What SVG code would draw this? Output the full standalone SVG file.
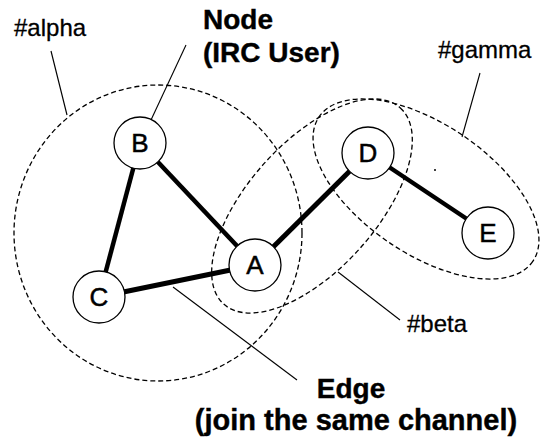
<svg xmlns="http://www.w3.org/2000/svg" width="542" height="441" viewBox="0 0 542 441">
  <style>
    .channel { fill: none; stroke: #000; stroke-width: 1.3; stroke-dasharray: 5 3; }
    .leader { fill: none; stroke: #000; stroke-width: 1.1; }
    .edge { stroke: #000; stroke-width: 4.5; stroke-linecap: butt; }
    .node circle { fill: #fff; stroke: #000; stroke-width: 1.3; }
    .node text { font-family: "Liberation Sans", Arial, sans-serif; font-size: 26px; text-anchor: middle; fill: #000; stroke: #000; stroke-width: 0.5; }
    .lbl { font-family: "Liberation Sans", Arial, sans-serif; font-size: 24px; fill: #000; stroke: #000; stroke-width: 0.3; }
    .big { font-family: "Liberation Sans", Arial, sans-serif; font-size: 28px; font-weight: bold; fill: #000; stroke: #000; stroke-width: 0.4; }
  </style>
  <rect width="542" height="441" fill="#fff"/>

  <!-- channels -->
  <g id="channels">
    <ellipse id="alpha" class="channel" cx="158" cy="233" rx="144" ry="148"/>
    <ellipse id="beta" class="channel" cx="312" cy="206" rx="132" ry="64" transform="rotate(-48 312 206)"/>
    <ellipse id="gamma" class="channel" cx="426" cy="189" rx="129" ry="65" transform="rotate(34 426 189)"/>
  </g>

  <!-- edges between users -->
  <g id="connectors">
    <line class="edge" x1="140" y1="143" x2="99" y2="297"/>
    <line class="edge" x1="140" y1="143" x2="255" y2="265"/>
    <line class="edge" x1="99" y1="297" x2="255" y2="265" style="stroke-width:5"/>
    <line class="edge" x1="255" y1="265" x2="368" y2="153" style="stroke-width:5"/>
    <line class="edge" x1="368" y1="153" x2="488" y2="233"/>
  </g>

  <!-- callout lines -->
  <g id="leaders">
    <line class="leader" x1="51" y1="51" x2="67" y2="115"/>
    <line class="leader" x1="186" y1="45" x2="151" y2="120"/>
    <line class="leader" x1="480" y1="73" x2="462" y2="137"/>
    <line class="leader" x1="338" y1="272" x2="400" y2="320"/>
    <line class="leader" x1="173" y1="287" x2="297" y2="380"/>
  </g>

  <g id="node-B" class="node"><circle cx="140" cy="143" r="26"/><text x="140" y="152">B</text></g>
  <g id="node-C" class="node"><circle cx="99" cy="297" r="26"/><text x="99" y="306">C</text></g>
  <g id="node-A" class="node"><circle cx="255" cy="265" r="26"/><text x="255" y="274">A</text></g>
  <g id="node-D" class="node"><circle cx="368" cy="153" r="26"/><text x="368" y="162">D</text></g>
  <g id="node-E" class="node"><circle cx="488" cy="233" r="26"/><text x="488" y="242">E</text></g>

  <circle cx="435" cy="170" r="1" fill="#000"/>

  <!-- labels -->
  <g id="labels">
    <text class="lbl" x="14" y="36">#alpha</text>
    <text class="lbl" x="438" y="58">#gamma</text>
    <text class="lbl" x="407" y="332">#beta</text>
    <text class="big" x="203" y="29">Node</text>
    <text class="big" x="203" y="62">(IRC User)</text>
    <text class="big" x="351" y="398" text-anchor="middle">Edge</text>
    <text class="big" x="356" y="430" text-anchor="middle" style="font-size:29px">(join the same channel)</text>
  </g>
</svg>
